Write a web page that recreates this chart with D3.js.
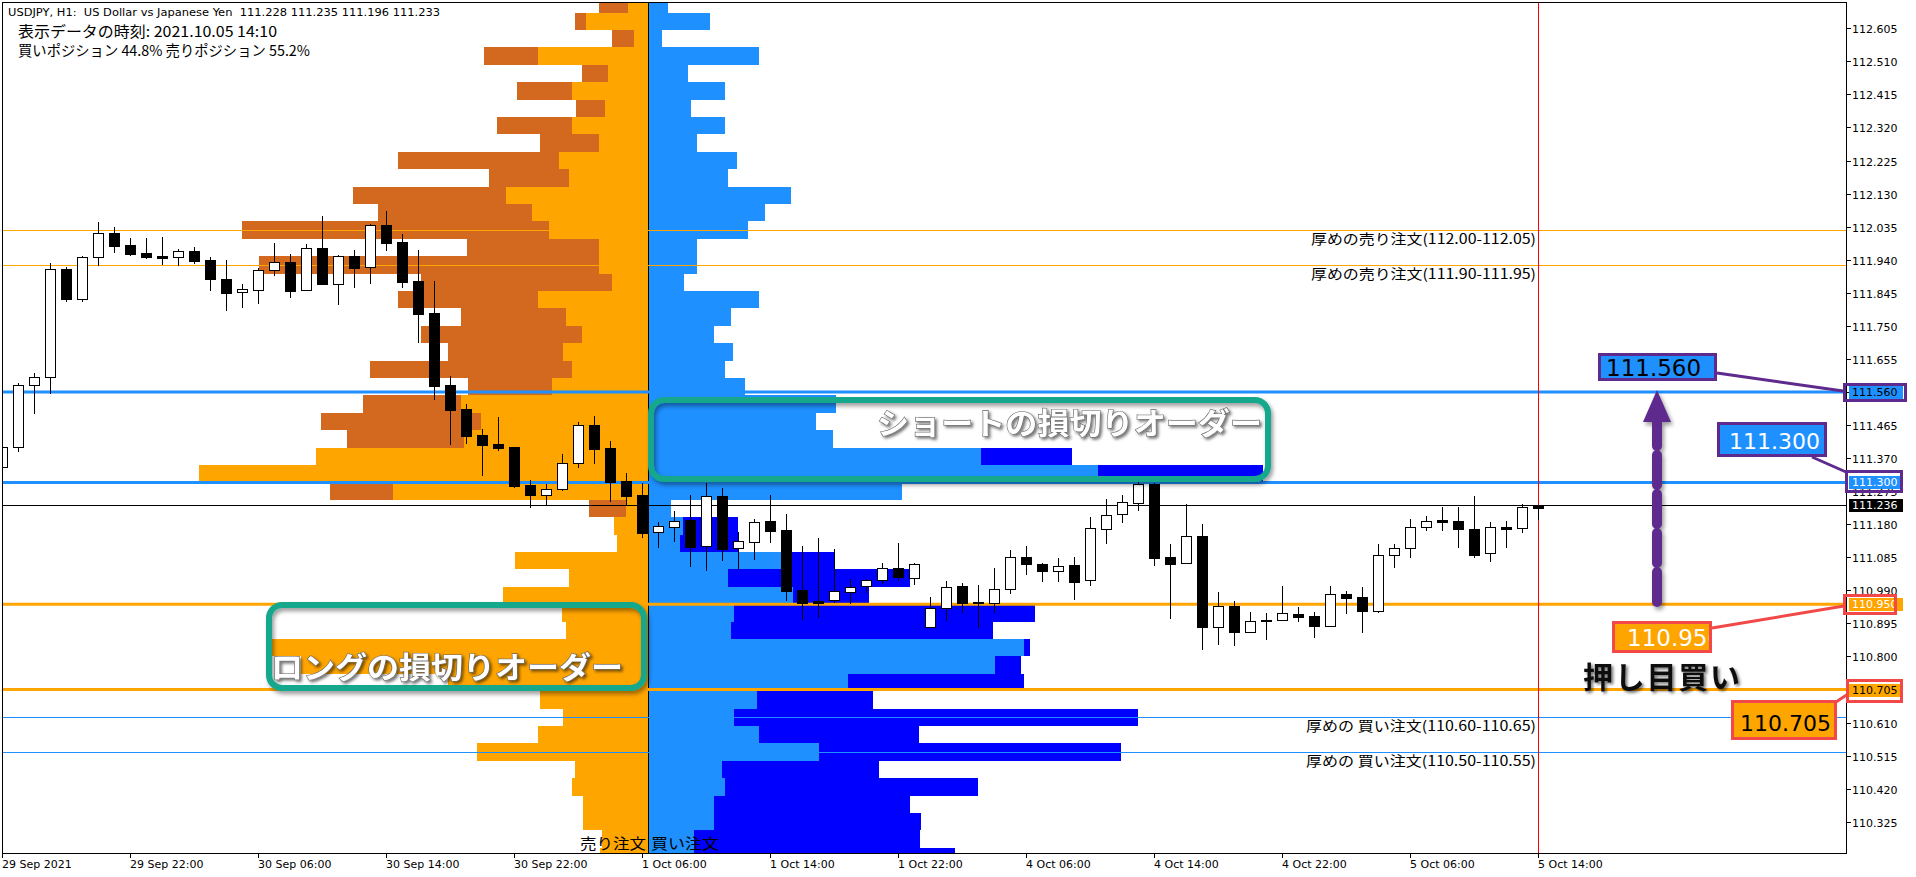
<!DOCTYPE html>
<html lang="ja"><head><meta charset="utf-8">
<script src="https://cdn.jsdelivr.net/npm/d3@7/dist/d3.min.js"></script>
<style>
html,body{margin:0;padding:0;background:#fff;overflow:hidden}
svg{display:block}
</style></head><body>
<svg id="chart" width="1916" height="877"></svg>
<script>
// ---------------- DATA ----------------
const headerLine = "USDJPY, H1:  US Dollar vs Japanese Yen  111.228 111.235 111.196 111.233";
const infoTime = "表示データの時刻: 2021.10.05 14:10";
const infoPos = "買いポジション 44.8% 売りポジション 55.2%";

const xTickLabels = ["29 Sep 2021","29 Sep 22:00","30 Sep 06:00","30 Sep 14:00","30 Sep 22:00","1 Oct 06:00","1 Oct 14:00","1 Oct 22:00","4 Oct 06:00","4 Oct 14:00","4 Oct 22:00","5 Oct 06:00","5 Oct 14:00"];
const priceTickLabels = ["112.605","112.510","112.415","112.320","112.225","112.130","112.035","111.940","111.845","111.750","111.655","111.560","111.465","111.370","111.275","111.180","111.085","110.990","110.895","110.800","110.705","110.610","110.515","110.420","110.325"];

// hourly candles, 29 Sep 14:00 .. 5 Oct 14:00
const candleOpen  = [111.344,111.401,111.580,111.603,111.913,111.827,111.947,112.016,111.982,111.959,111.950,111.947,111.965,111.939,111.884,111.847,111.853,111.910,111.933,111.853,111.973,111.870,111.950,111.919,112.039,111.991,111.878,111.787,111.580,111.511,111.436,111.410,111.401,111.292,111.263,111.281,111.355,111.465,111.399,111.304,111.263,111.157,111.171,111.192,111.117,111.261,111.111,111.128,111.189,111.163,110.990,110.953,110.962,110.985,111.002,111.019,111.054,111.025,110.884,110.939,111.002,110.956,110.953,110.993,111.085,111.065,111.045,111.062,111.019,111.166,111.209,111.240,111.295,111.085,111.068,111.146,110.884,110.944,110.870,110.904,110.904,110.922,110.916,110.887,110.979,110.970,110.930,111.091,111.111,111.171,111.192,111.189,111.166,111.097,111.171,111.169,111.228];
const candleHigh  = [111.407,111.585,111.614,111.930,111.919,111.950,112.048,112.034,112.002,112.002,112.005,111.970,111.976,111.947,111.939,111.870,111.916,111.988,111.956,111.985,112.065,111.953,111.968,112.042,112.080,112.013,111.968,111.878,111.605,111.525,111.453,111.488,111.403,111.307,111.295,111.381,111.473,111.490,111.419,111.327,111.298,111.186,111.217,111.263,111.298,111.283,111.157,111.194,111.263,111.209,111.117,111.140,111.108,111.022,111.022,111.068,111.125,111.068,110.970,111.016,111.010,111.005,111.054,111.105,111.117,111.068,111.082,111.085,111.200,111.252,111.263,111.301,111.298,111.123,111.238,111.180,110.985,110.959,110.927,110.924,111.002,110.941,110.927,111.002,110.987,110.999,111.123,111.123,111.194,111.203,111.229,111.229,111.261,111.186,111.189,111.238,111.235];
const candleLow   = [111.335,111.390,111.499,111.557,111.821,111.821,111.924,111.962,111.953,111.945,111.927,111.924,111.930,111.853,111.795,111.804,111.815,111.896,111.832,111.853,111.870,111.812,111.861,111.873,111.968,111.861,111.703,111.539,111.410,111.413,111.321,111.393,111.286,111.229,111.237,111.278,111.344,111.355,111.246,111.235,111.143,111.114,111.131,111.059,111.048,111.077,111.051,111.080,111.128,110.962,110.907,110.913,110.956,110.953,110.985,111.010,111.019,111.008,110.884,110.904,110.927,110.884,110.927,110.982,111.036,111.016,111.016,110.965,111.005,111.125,111.186,111.220,111.062,110.910,111.068,110.821,110.835,110.832,110.870,110.850,110.904,110.901,110.855,110.887,110.924,110.870,110.927,111.056,111.085,111.163,111.163,111.114,111.085,111.074,111.114,111.157,111.196];
const candleClose = [111.401,111.580,111.603,111.913,111.827,111.947,112.016,111.979,111.956,111.947,111.945,111.965,111.936,111.884,111.844,111.856,111.910,111.933,111.850,111.973,111.870,111.950,111.916,112.039,111.988,111.876,111.784,111.577,111.508,111.433,111.407,111.399,111.289,111.263,111.281,111.355,111.465,111.396,111.301,111.261,111.154,111.174,111.189,111.114,111.261,111.108,111.131,111.186,111.160,110.987,110.953,110.959,110.987,110.999,111.019,111.054,111.028,111.065,110.939,110.999,110.953,110.953,110.993,111.085,111.065,111.045,111.059,111.013,111.169,111.206,111.243,111.295,111.082,111.065,111.146,110.884,110.944,110.870,110.901,110.901,110.924,110.913,110.887,110.979,110.967,110.930,111.091,111.111,111.171,111.189,111.186,111.166,111.091,111.171,111.166,111.229,111.233];

// order book: lower bound of each 0.05 price bucket, values in % of orders
const bucketLow = [112.65,112.60,112.55,112.50,112.45,112.40,112.35,112.30,112.25,112.20,112.15,112.10,112.05,112.00,111.95,111.90,111.85,111.80,111.75,111.70,111.65,111.60,111.55,111.50,111.45,111.40,111.35,111.30,111.25,111.20,111.15,111.10,111.05,111.00,110.95,110.90,110.85,110.80,110.75,110.70,110.65,110.60,110.55,110.50,110.45,110.40,110.35,110.30,110.25,110.20];
const sellLight = [.020,.062,.014,.110,.040,.076,.043,.076,.049,.089,.079,.142,.116,.099,.049,.049,.036,.110,.082,.066,.085,.076,.096,.187,.167,.184,.332,.449,.255,.022,.034,.031,.133,.079,.145,.086,.082,.376,.347,.200,.108,.085,.110,.171,.073,.076,.065,.065,.046,.048];
const sellDark  = [.049,.073,.036,.164,.066,.131,.072,.151,.108,.250,.159,.295,.270,.406,.181,.389,.227,.250,.187,.227,.200,.278,.180,.285,.327,.301,0,0,.318,.059,0,0,0,0,0,0,0,0,0,0,0,0,0,0,0,0,0,0,0,0];
const buyLight  = [.020,.062,.014,.111,.040,.077,.043,.077,.049,.089,.080,.143,.117,.100,.049,.049,.036,.111,.083,.066,.085,.077,.097,.188,.168,.185,.333,.450,.254,.023,.035,.032,.143,.080,.145,.086,.083,.376,.347,.200,.109,.086,.111,.171,.074,.077,.066,.066,.046,.046];
const buyDark   = [0,0,0,0,0,0,0,0,0,0,0,0,0,0,0,0,0,0,0,0,0,0,0,0,0,0,.424,.615,0,0,.090,.090,.187,.262,.221,.387,.345,.382,.373,.376,.225,.490,.271,.473,.231,.330,.262,.273,.272,.307];

const sellWalls = [[112.00,112.05],[111.90,111.95]];
const buyWalls  = [[110.60,110.65],[110.50,110.55]];
const shortStopLevels = [111.560,111.300];
const longStopLevels  = [110.950,110.705];
const bidPrice = 111.236;

// ---------------- CHART ----------------
const svg = d3.select('#chart');
const PL=2, PT=2, PR=1846, PB=853;
const y  = d3.scaleLinear().domain([110.2352,112.6806]).range([PB,PT]);
const x  = d3.scaleLinear().domain([0,96]).range([2,1538]);
const ob = d3.scaleLinear().domain([0,1]).range([0,1000]);
const OBX = 648, BUCKET = 0.05;
const AX = "DejaVu Sans, Verdana, sans-serif";
const JP = "Noto Sans CJK JP, sans-serif";
const C = {orange:"#FFA500", choc:"#D2691E", dblue:"#1E90FF", blue:"#0000FF", teal:"#14A88C", purple:"#5E2A8E", red:"#F24848"};

svg.append('rect').attr('width',1916).attr('height',877).attr('fill','#fff');
const defs = svg.append('defs');
defs.append('clipPath').attr('id','pc').append('rect').attr('x',PL).attr('y',PT).attr('width',PR-PL).attr('height',PB-PT);
const f1 = defs.append('filter').attr('id','sh').attr('x','-10%').attr('y','-30%').attr('width','130%').attr('height','170%');
f1.append('feDropShadow').attr('dx',2).attr('dy',3).attr('stdDeviation',2).attr('flood-color','#000').attr('flood-opacity',0.4);
const f2 = defs.append('filter').attr('id','tsh').attr('x','-5%').attr('y','-30%').attr('width','115%').attr('height','170%');
f2.append('feDropShadow').attr('dx',2).attr('dy',2).attr('stdDeviation',1.5).attr('flood-color','#000').attr('flood-opacity',0.55);

const plot = svg.append('g').attr('clip-path','url(#pc)');

// order book
const rows = bucketLow.map((p,i)=>({p, sl:sellLight[i], sd:sellDark[i], bl:buyLight[i], bd:buyDark[i]}));
const gOB = plot.append('g').attr('shape-rendering','crispEdges');
const rowY = d=>Math.round(y(d.p+BUCKET));
const rowH = d=>Math.round(y(d.p))-Math.round(y(d.p+BUCKET));
gOB.selectAll('.sd').data(rows).join('rect').attr('x',d=>OBX-ob(d.sd)).attr('width',d=>ob(d.sd)).attr('y',rowY).attr('height',rowH).attr('fill',C.choc);
gOB.selectAll('.sl').data(rows).join('rect').attr('x',d=>OBX-ob(d.sl)).attr('width',d=>ob(d.sl)).attr('y',rowY).attr('height',rowH).attr('fill',C.orange);
gOB.selectAll('.bd').data(rows).join('rect').attr('x',OBX).attr('width',d=>ob(d.bd)).attr('y',rowY).attr('height',rowH).attr('fill',C.blue);
gOB.selectAll('.bl').data(rows).join('rect').attr('x',OBX).attr('width',d=>ob(d.bl)).attr('y',rowY).attr('height',rowH).attr('fill',C.dblue);
plot.append('line').attr('x1',OBX+0.5).attr('x2',OBX+0.5).attr('y1',PT).attr('y2',PB).attr('stroke','#000');

// horizontal lines
const hl = plot.append('g');
const mid = r=>(r[0]+r[1])/2;
sellWalls.forEach(r=>hl.append('line').attr('x1',PL).attr('x2',PR).attr('y1',Math.round(y(mid(r)))+0.5).attr('y2',Math.round(y(mid(r)))+0.5).attr('stroke',C.orange));
buyWalls.forEach(r=>hl.append('line').attr('x1',PL).attr('x2',PR).attr('y1',Math.round(y(mid(r)))+0.5).attr('y2',Math.round(y(mid(r)))+0.5).attr('stroke',C.dblue));
shortStopLevels.forEach(p=>hl.append('line').attr('x1',PL).attr('x2',PR).attr('y1',y(p)).attr('y2',y(p)).attr('stroke',C.dblue).attr('stroke-width',3));
longStopLevels.forEach(p=>hl.append('line').attr('x1',PL).attr('x2',PR).attr('y1',y(p)).attr('y2',y(p)).attr('stroke',C.orange).attr('stroke-width',3));
hl.append('line').attr('x1',PL).attr('x2',PR).attr('y1',Math.round(y(bidPrice))+0.5).attr('y2',Math.round(y(bidPrice))+0.5).attr('stroke','#000');
hl.append('line').attr('x1',x(96)+0.5).attr('x2',x(96)+0.5).attr('y1',PT).attr('y2',PB).attr('stroke','#FF0000');

// candles
const candles = candleOpen.map((o,i)=>({i,o,h:candleHigh[i],l:candleLow[i],c:candleClose[i]}));
const gC = plot.append('g').attr('shape-rendering','crispEdges');
gC.selectAll('.w').data(candles).join('line')
  .attr('x1',d=>x(d.i)+0.5).attr('x2',d=>x(d.i)+0.5)
  .attr('y1',d=>Math.round(y(d.h))).attr('y2',d=>Math.round(y(d.l))+1).attr('stroke','#000');
gC.selectAll('.b').data(candles).join('rect')
  .attr('x',d=>x(d.i)-4.5).attr('width',10)
  .attr('y',d=>Math.round(y(Math.max(d.o,d.c)))+0.5)
  .attr('height',d=>Math.max(1,Math.round(y(Math.min(d.o,d.c)))-Math.round(y(Math.max(d.o,d.c)))))
  .attr('fill',d=>d.c>d.o && (y(d.o)-y(d.c))>3 ? '#fff' : '#000').attr('stroke','#000');

// frame & axes
svg.append('rect').attr('x',PL+0.5).attr('y',PT+0.5).attr('width',PR-PL).attr('height',PB-PT).attr('fill','none').attr('stroke','#000');
const gy = svg.append('g').attr('font-family',AX).attr('font-size',11);
priceTickLabels.forEach(t=>{
  const yy = Math.round(y(+t))+0.5;
  gy.append('line').attr('x1',PR).attr('x2',PR+5).attr('y1',yy).attr('y2',yy).attr('stroke','#000');
  gy.append('text').attr('x',PR+6).attr('y',yy+4).text(t);
});
const gx = svg.append('g').attr('font-family',AX).attr('font-size',11);
xTickLabels.forEach((t,k)=>{
  const xx = x(k*8)+0.5;
  gx.append('line').attr('x1',xx).attr('x2',xx).attr('y1',PB).attr('y2',PB+5).attr('stroke','#000');
  gx.append('text').attr('x',xx-0.5).attr('y',PB+15).text(t);
});

// axis price tags
function tag(p, bg, fg){
  const yy = Math.round(y(p));
  svg.append('rect').attr('x',PR+3).attr('y',yy-6).attr('width',54).attr('height',13).attr('fill',bg);
  svg.append('text').attr('x',PR+6).attr('y',yy+4).attr('font-family',AX).attr('font-size',11).attr('fill',fg).text(p.toFixed(3));
}
tag(shortStopLevels[0], C.dblue, '#000');
tag(shortStopLevels[1], C.dblue, '#fff');
tag(bidPrice, '#000', '#fff');
tag(longStopLevels[0], C.orange, '#fff');
tag(longStopLevels[1], C.orange, '#000');

// header texts
svg.append('text').attr('x',8).attr('y',16).attr('font-family',AX).attr('font-size',11)
  .attr('textLength',432).attr('lengthAdjust','spacingAndGlyphs').style('white-space','pre').text(headerLine);
svg.append('text').attr('x',18).attr('y',37).attr('font-family',JP).attr('font-size',15)
  .attr('textLength',259).attr('lengthAdjust','spacingAndGlyphs').text(infoTime);
svg.append('text').attr('x',18).attr('y',56).attr('font-family',JP).attr('font-size',14.5)
  .attr('textLength',292).attr('lengthAdjust','spacingAndGlyphs').text(infoPos);

// wall labels
sellWalls.forEach(r=>svg.append('text').attr('x',1536).attr('y',Math.round(y(mid(r)))+14).attr('text-anchor','end')
  .attr('font-family',JP).attr('font-size',14).attr('textLength',225).attr('lengthAdjust','spacingAndGlyphs')
  .text(`厚めの売り注文(${r[0].toFixed(2)}-${r[1].toFixed(2)})`));
buyWalls.forEach(r=>svg.append('text').attr('x',1536).attr('y',Math.round(y(mid(r)))+14).attr('text-anchor','end')
  .attr('font-family',JP).attr('font-size',14).attr('textLength',230).attr('lengthAdjust','spacingAndGlyphs')
  .text(`厚めの 買い注文(${r[0].toFixed(2)}-${r[1].toFixed(2)})`));

// bottom labels
svg.append('text').attr('x',OBX-2).attr('y',PB-4).attr('text-anchor','end').attr('font-family',JP).attr('font-size',15)
  .attr('textLength',66).attr('lengthAdjust','spacingAndGlyphs').text('売り注文');
svg.append('text').attr('x',OBX+3).attr('y',PB-4).attr('font-family',JP).attr('font-size',15)
  .attr('textLength',68).attr('lengthAdjust','spacingAndGlyphs').text('買い注文');

// teal boxes
const ann = svg.append('g');
ann.append('rect').attr('x',651).attr('y',400).attr('width',617).attr('height',79).attr('rx',13)
  .attr('fill','none').attr('stroke',C.teal).attr('stroke-width',6).attr('filter','url(#sh)');
ann.append('rect').attr('x',269).attr('y',605).attr('width',375).attr('height',83).attr('rx',13)
  .attr('fill','none').attr('stroke',C.teal).attr('stroke-width',6).attr('filter','url(#sh)');
ann.append('text').attr('x',877).attr('y',434).attr('font-family',JP).attr('font-weight',700).attr('font-size',30)
  .attr('textLength',385).attr('lengthAdjust','spacingAndGlyphs')
  .attr('fill','#fff').attr('stroke','#666').attr('stroke-width',1.2).attr('paint-order','stroke').attr('filter','url(#tsh)')
  .text('ショートの損切りオーダー');
ann.append('text').attr('x',271).attr('y',678).attr('font-family',JP).attr('font-weight',700).attr('font-size',30)
  .attr('textLength',352).attr('lengthAdjust','spacingAndGlyphs')
  .attr('fill','#fff').attr('stroke','#666').attr('stroke-width',1.2).attr('paint-order','stroke').attr('filter','url(#tsh)')
  .text('ロングの損切りオーダー');

// right-side callouts
function callout(bx,by,bw,bh,frame,bg,fg,label,fs,tx,ty){
  const g = ann.append('g');
  g.append('rect').attr('x',bx).attr('y',by).attr('width',bw).attr('height',bh).attr('fill',bg);
  const cid = 'cl'+Math.round(bx)+Math.round(by);
  defs.append('clipPath').attr('id',cid).append('rect').attr('x',bx).attr('y',by).attr('width',bw).attr('height',bh);
  g.append('text').attr('clip-path',`url(#${cid})`).attr('x',tx).attr('y',ty).attr('font-family',AX).attr('font-size',fs).attr('fill',fg).text(label);
  g.append('rect').attr('x',bx-1.5).attr('y',by-1.5).attr('width',bw+3).attr('height',bh+3).attr('fill','none').attr('stroke',frame).attr('stroke-width',3);
}
function tagFrame(x0,y0,w,h,col){ ann.append('rect').attr('x',x0).attr('y',y0).attr('width',w).attr('height',h).attr('fill','none').attr('stroke',col).attr('stroke-width',3); }
tagFrame(1844.5, Math.round(y(shortStopLevels[0]))-7.5, 61, 16, C.purple);
tagFrame(1846.5, Math.round(y(shortStopLevels[1]))-10.5, 55, 20, C.purple);
tagFrame(1844.5, Math.round(y(longStopLevels[0]))-8.5, 51, 18, C.red);
tagFrame(1847.5, Math.round(y(longStopLevels[1]))-9.5, 54, 21, C.red);

const ln=(x1,y1,x2,y2,col)=>ann.append('line').attr('x1',x1).attr('y1',y1).attr('x2',x2).attr('y2',y2).attr('stroke',col).attr('stroke-width',3);
ln(1717,373,1843,Math.round(y(shortStopLevels[0]))-1,C.purple);
ln(1812,457,1846,Math.round(y(shortStopLevels[1]))-10,C.purple);
ln(1712,628,1844,Math.round(y(longStopLevels[0]))+2,C.red);
ln(1836,702,1848,Math.round(y(longStopLevels[1]))+4,C.red);

callout(1601,356,113,22,C.purple,C.dblue,'#000',shortStopLevels[0].toFixed(3),23,1606,376);
callout(1720,425,104,29,C.purple,C.dblue,'#fff',shortStopLevels[1].toFixed(3),22,1729,449);
callout(1615,624,94,26,C.red,C.orange,'#fff',longStopLevels[0].toFixed(3),23,1627,646);
callout(1734,703,100,34,C.red,C.orange,'#000',longStopLevels[1].toFixed(3),22,1740,731);

// dashed arrow
const ag = ann.append('g').attr('filter','url(#sh)');
ag.append('line').attr('x1',1657).attr('x2',1657).attr('y1',602).attr('y2',420).attr('stroke',C.purple).attr('stroke-width',10).attr('stroke-dasharray','30 9').attr('stroke-linecap','round');
ag.append('path').attr('d','M1657,390 L1643,422 L1671,422 Z').attr('fill',C.purple);

ann.append('text').attr('x',1583).attr('y',688).attr('font-family',JP).attr('font-weight',700).attr('font-size',30)
  .attr('textLength',157).attr('lengthAdjust','spacing').attr('fill','#111').attr('filter','url(#tsh)').text('押し目買い');
</script></body></html>
